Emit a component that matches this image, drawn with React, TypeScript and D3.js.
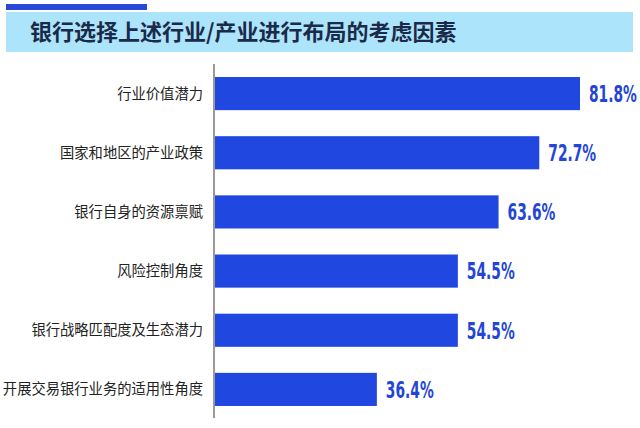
import { useEffect, useRef } from 'react'
import * as d3 from 'd3'

const categories = [
  '行业价值潜力',
  '国家和地区的产业政策',
  '银行自身的资源禀赋',
  '风险控制角度',
  '银行战略匹配度及生态潜力',
  '开展交易银行业务的适用性角度',
]
const values = [81.8, 72.7, 63.6, 54.5, 54.5, 36.4]
const title = '银行选择上述行业/产业进行布局的考虑因素'

export default function App() {
  const ref = useRef<SVGSVGElement>(null)

  useEffect(() => {
    if (!ref.current) return
    const svg = d3.select(ref.current)
    svg.selectAll('*').remove()

    const width = 640
    const height = 428

    svg.append('rect').attr('width', width).attr('height', height).attr('fill', '#fff')

    // header
    svg.append('rect').attr('x', 6).attr('y', 4).attr('width', 141).attr('height', 6).attr('fill', '#2a48d8')
    svg.append('rect').attr('x', 6).attr('y', 12).attr('width', 627).attr('height', 40).attr('fill', '#abe4fb')
    svg.append('text')
      .attr('x', 30)
      .attr('y', 40)
      .attr('font-family', '"Noto Sans CJK SC", sans-serif')
      .attr('font-weight', 700)
      .attr('font-size', 22)
      .attr('fill', '#1b2a48')
      .text(title)

    const x0 = 214
    const x = d3.scaleLinear().domain([0, 81.8]).range([x0, 580])
    const y = d3.scaleBand().domain(categories).range([64, 419]).paddingInner(0.44).paddingOuter(0.22)

    svg.append('line')
      .attr('x1', x0).attr('x2', x0)
      .attr('y1', 64).attr('y2', 418)
      .attr('stroke', '#777').attr('stroke-width', 1.5)

    const g = svg.append('g')
    const rows = g.selectAll('g.row').data(categories).enter().append('g').attr('class', 'row')

    rows.append('rect')
      .attr('x', x0 + 1)
      .attr('y', d => y(d)!)
      .attr('width', (_, i) => x(values[i]) - x0 - 1)
      .attr('height', y.bandwidth())
      .attr('fill', '#2048e0')

    rows.append('text')
      .attr('x', 203)
      .attr('y', d => y(d)! + y.bandwidth() / 2)
      .attr('dy', '0.35em')
      .attr('text-anchor', 'end')
      .attr('font-family', '"Noto Sans CJK SC", sans-serif')
      .attr('font-size', 14.3)
      .attr('fill', '#222')
      .text(d => d)

    // condensed value labels: no narrow font installed, so squeeze horizontally
    rows.append('text')
      .attr('transform', (d, i) => `translate(${x(values[i]) + 9},${y(d)! + y.bandwidth() / 2}) scale(0.6,1)`)
      .attr('dy', '0.36em')
      .attr('font-family', '"DejaVu Sans", sans-serif')
      .attr('font-weight', 700)
      .attr('font-size', 23)
      .attr('fill', '#2346d6')
      .text((_, i) => values[i].toFixed(1) + '%')
  }, [])

  return <svg ref={ref} width={640} height={428} style={{ position: 'absolute', left: 0, top: 0 }} />
}
